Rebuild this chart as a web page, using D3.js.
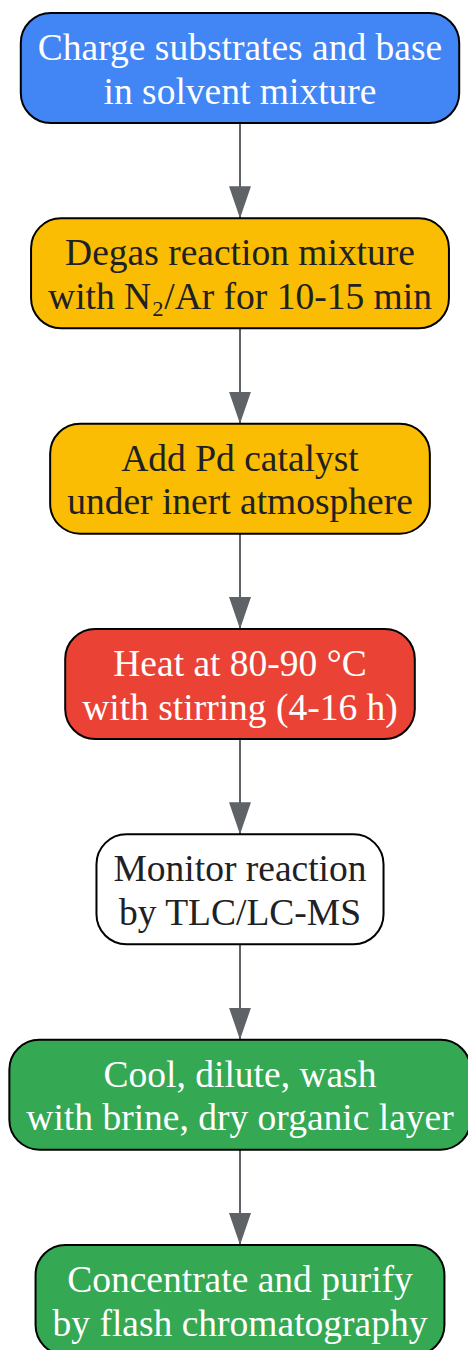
<!DOCTYPE html>
<html>
<head>
<meta charset="utf-8">
<script src="https://cdn.jsdelivr.net/npm/d3@7"></script>
<style>
  body { margin: 0; background: #fff; }
  svg { display: block; }
</style>
</head>
<body>
<div class="view"></div>
<script>
const w = 468
const h = 1350

// steps of the procedure, top to bottom
const steps = [
  ['Charge substrates and base', 'in solvent mixture'],
  ['Degas reaction mixture', 'with N\u2082/Ar for 10-15 min'],
  ['Add Pd catalyst', 'under inert atmosphere'],
  ['Heat at 80-90 \u00b0C', 'with stirring (4-16 h)'],
  ['Monitor reaction', 'by TLC/LC-MS'],
  ['Cool, dilute, wash', 'with brine, dry organic layer'],
  ['Concentrate and purify', 'by flash chromatography']
]
const fills = ['#4285f4', '#fbbc04', '#fbbc04', '#ea4335', '#ffffff', '#34a853', '#34a853']
const textColors = ['#ffffff', '#202124', '#202124', '#ffffff', '#202124', '#ffffff', '#ffffff']

const nodeH = 110
const lineGap = 43.5
const fontSize = 37.5

const svg = d3.select('.view')
  .append('svg')
  .attr('width', w)
  .attr('height', h)

// vertical position of each node centre
const yScale = d3.scaleLinear()
  .domain([0, steps.length - 1])
  .range([68, 1300])
const cx = 240

svg.append('defs').append('marker')
  .attr('id', 'arrow')
  .attr('viewBox', '0 0 32 22')
  .attr('refX', 32)
  .attr('refY', 11)
  .attr('markerWidth', 32)
  .attr('markerHeight', 22)
  .attr('markerUnits', 'userSpaceOnUse')
  .attr('orient', 'auto')
  .append('path')
  .attr('d', 'M0,0 L32,11 L0,22 Z')
  .attr('fill', '#5f6368')

// edges
svg.selectAll('.edge')
  .data(d3.range(steps.length - 1))
  .enter()
  .append('line')
  .attr('class', 'edge')
  .attr('x1', cx)
  .attr('x2', cx)
  .attr('y1', (i) => yScale(i) + nodeH / 2)
  .attr('y2', (i) => yScale(i + 1) - nodeH / 2)
  .attr('stroke', '#5f6368')
  .attr('stroke-width', 2)
  .attr('marker-end', 'url(#arrow)')

const node = svg.selectAll('.node')
  .data(steps)
  .enter()
  .append('g')
  .attr('class', 'node')
  .attr('transform', (d, i) => 'translate(' + cx + ',' + yScale(i) + ')')

const rects = node.append('rect')
  .attr('fill', (d, i) => fills[i])
  .attr('stroke', '#000')
  .attr('stroke-width', 2)
  .attr('rx', 30)
  .attr('ry', 30)

const label = node.append('text')
  .attr('text-anchor', 'middle')
  .attr('font-family', "'Liberation Serif', 'Times New Roman', serif")
  .attr('font-size', fontSize)
  .attr('fill', (d, i) => textColors[i])

label.selectAll('tspan')
  .data((d) => d)
  .enter()
  .append('tspan')
  .attr('x', 0)
  .attr('y', (d, j) => -8 + j * lineGap)
  .text((d) => d)

// box width follows the widest line
rects.each(function(d, i) {
  const tw = d3.max(label.nodes()[i].querySelectorAll('tspan'), (t) => t.getComputedTextLength())
  const bw = tw + 34
  d3.select(this)
    .attr('x', -bw / 2)
    .attr('y', -nodeH / 2)
    .attr('width', bw)
    .attr('height', nodeH)
})
</script>
</body>
</html>
